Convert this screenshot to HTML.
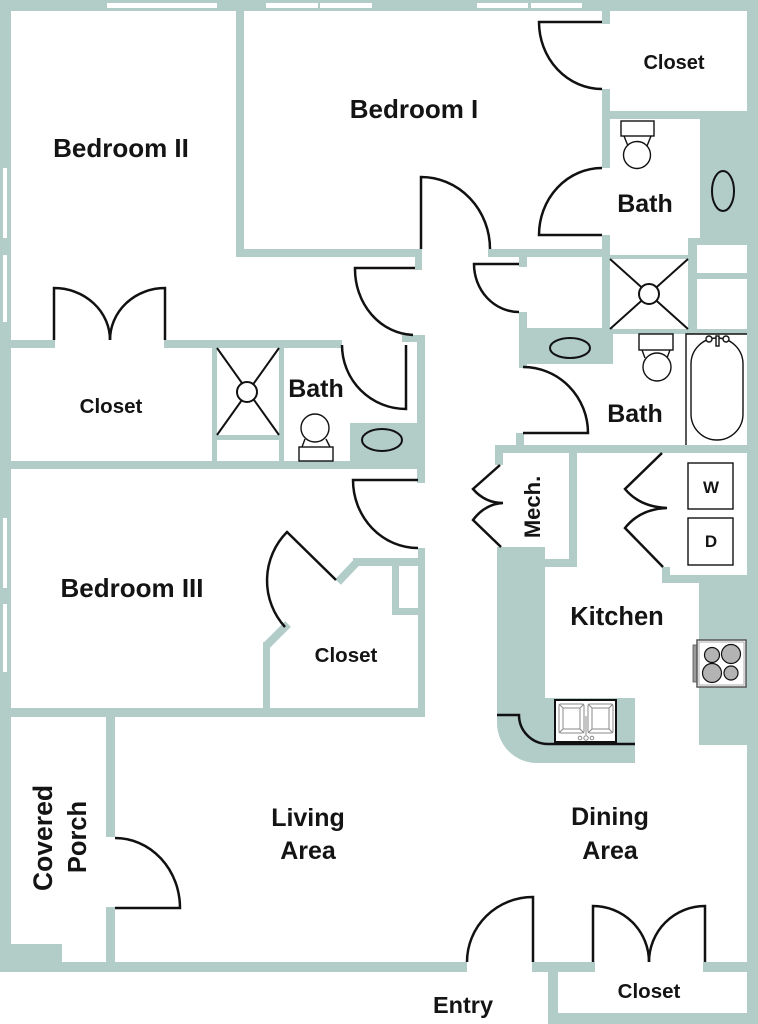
<!DOCTYPE html>
<html>
<head>
<meta charset="utf-8">
<style>
  html,body{margin:0;padding:0;background:#fff;}
  svg{display:block;}
  text{font-family:"Liberation Sans", Arial, sans-serif;font-weight:bold;fill:#141414;}
</style>
</head>
<body>
<svg width="758" height="1024" viewBox="0 0 758 1024" xmlns="http://www.w3.org/2000/svg">
  <rect width="758" height="1024" fill="#fff"/>

  <!-- WALLS -->
  <g fill="#b2ccc8">
    <!-- outer -->
    <rect x="0" y="0" width="758" height="11"/>
    <rect x="0" y="0" width="11" height="972"/>
    <rect x="747" y="0" width="11" height="1024"/>

    <!-- bedroom I -->
    <rect x="236" y="0" width="8" height="257"/>
    <rect x="236" y="249" width="186" height="8"/>
    <rect x="415" y="249" width="7" height="21"/>
    <rect x="488" y="249" width="122" height="8"/>

    <!-- closet / upper bath column -->
    <rect x="602" y="0" width="8" height="24"/>
    <rect x="602" y="89" width="8" height="79"/>
    <rect x="602" y="235" width="8" height="99"/>
    <rect x="602" y="111" width="145" height="8"/>
    <rect x="700" y="111" width="47" height="134"/>
    <rect x="688" y="238" width="9" height="96"/>
    <rect x="610" y="255" width="80" height="4"/>
    <rect x="697" y="238" width="50" height="7"/>
    <rect x="697" y="273" width="50" height="6"/>
    <rect x="610" y="329" width="137" height="5"/>

    <!-- linen / vanity -->
    <rect x="519" y="257" width="8" height="10"/>
    <rect x="519" y="312" width="8" height="56"/>
    <rect x="519" y="328" width="94" height="36"/>
    <rect x="516" y="433" width="8" height="12"/>
    <rect x="495" y="445" width="263" height="8"/>

    <!-- hallway left -->
    <rect x="402" y="335" width="23" height="7"/>
    <rect x="417" y="335" width="8" height="148"/>
    <rect x="418" y="548" width="7" height="169"/>

    <!-- bedroom II bottom, closet, bath II -->
    <rect x="0" y="340" width="55" height="8"/>
    <rect x="164" y="340" width="178" height="8"/>
    <rect x="212" y="348" width="5" height="114"/>
    <rect x="279" y="348" width="5" height="114"/>
    <rect x="217" y="435" width="62" height="5"/>
    <rect x="350" y="423" width="68" height="39"/>
    <rect x="0" y="461" width="425" height="8"/>

    <!-- bedroom III closet -->
    <rect x="353" y="558" width="65" height="8"/>
    <rect x="263" y="642" width="7" height="72"/>
    <rect x="392" y="566" width="7" height="49"/>
    <rect x="392" y="608" width="26" height="7"/>
    <rect x="0" y="708" width="425" height="9"/>

    <!-- porch -->
    <rect x="106" y="717" width="9" height="120"/>
    <rect x="106" y="907" width="9" height="65"/>
    <rect x="0" y="944" width="62" height="28"/>

    <!-- bottom -->
    <rect x="0" y="962" width="467" height="10"/>
    <rect x="532" y="962" width="63" height="10"/>
    <rect x="703" y="962" width="55" height="10"/>
    <rect x="548" y="962" width="10" height="62"/>
    <rect x="548" y="1013" width="210" height="11"/>

    <!-- kitchen / mech / laundry -->
    <rect x="495" y="445" width="8" height="20"/>
    <path d="M497 547 H545 V698 H635 V763 H537 A40 40 0 0 1 497 723 Z"/>
    <rect x="569" y="453" width="8" height="114"/>
    <rect x="545" y="559" width="32" height="8"/>
    <rect x="662" y="567" width="8" height="16"/>
    <rect x="662" y="575" width="85" height="8"/>
    <rect x="699" y="583" width="48" height="162"/>
  </g>
  <g stroke="#b2ccc8" stroke-width="8" fill="none">
    <line x1="358" y1="561" x2="338" y2="582"/>
    <line x1="288" y1="624" x2="266" y2="646"/>
  </g>

  <!-- WINDOWS -->
  <g fill="#fff">
    <rect x="107" y="3" width="110" height="5"/>
    <rect x="266" y="3" width="52" height="5"/>
    <rect x="320" y="3" width="52" height="5"/>
    <rect x="477" y="3" width="51" height="5"/>
    <rect x="531" y="3" width="51" height="5"/>
    <rect x="3" y="168" width="4" height="70"/>
    <rect x="3" y="255" width="4" height="67"/>
    <rect x="3" y="518" width="4" height="70"/>
    <rect x="3" y="604" width="4" height="68"/>
  </g>

  <!-- DOORS -->
  <g stroke="#111" stroke-width="2.5" fill="none" stroke-linejoin="miter">
    <path d="M602 22 H539 A63 67 0 0 0 602 89"/>
    <path d="M602 235 H539 A63 67 0 0 1 602 168"/>
    <path d="M421 249 V177 A69 72 0 0 1 490 249"/>
    <path d="M519 264 H474 A45 48 0 0 0 519 312"/>
    <path d="M415 268 H355 A60 66 0 0 0 413 335"/>
    <path d="M406 345 V409 A64 64 0 0 1 342 345"/>
    <path d="M54 340 V288 A56 52 0 0 1 110 340"/>
    <path d="M165 340 V288 A55 52 0 0 0 110 340"/>
    <path d="M418 480 H353 A65 68 0 0 0 418 548"/>
    <path d="M336 580 L287 532 A69 69 0 0 0 285 627"/>
    <path d="M523 433 H588 A65 66 0 0 0 523 367"/>
    <path d="M500 465 L473 489 Q485 503 503 503 Q485 504 473 520 L501 547"/>
    <path d="M662 453 L625 489 Q640 507 667 508 Q640 509 625 528 L663 567"/>
    <path d="M115 908 H180 A65 70 0 0 0 115 838"/>
    <path d="M533 962 V897 A66 65 0 0 0 467 962"/>
    <path d="M593 962 V906 A56 56 0 0 1 649 962"/>
    <path d="M705 962 V906 A56 56 0 0 0 649 962"/>
    <path d="M497 715 H519 A29 29 0 0 0 548 744 H635"/>
  </g>

  <!-- FIXTURES -->
  <g stroke="#111" stroke-width="1.4" fill="#fff">
    <!-- upper bath toilet -->
    <path d="M624 136 L628 146 M651 136 L647 146" fill="none"/>
    <circle cx="637" cy="155" r="13.5"/>
    <rect x="621" y="121" width="33" height="15"/>
    <!-- bath 2 toilet -->
    <path d="M642 350 L645 358 M670 350 L667 358" fill="none"/>
    <circle cx="657" cy="367" r="14"/>
    <rect x="639" y="334" width="34" height="16"/>
    <!-- bath II toilet -->
    <path d="M302 447 L305 439 M330 447 L326 439" fill="none"/>
    <circle cx="315" cy="428" r="14"/>
    <rect x="299" y="447" width="34" height="14"/>
    <!-- tub -->
    <path d="M686 445 V334 H747" fill="none"/>
    <rect x="691" y="338" width="52" height="102" rx="26" ry="26" fill="none"/>
    <circle cx="709" cy="339" r="3"/>
    <circle cx="726" cy="339" r="3"/>
    <rect x="716" y="336" width="3" height="10" fill="#fff"/>
    <!-- W / D -->
    <rect x="688" y="463" width="45" height="46"/>
    <rect x="688" y="518" width="45" height="47"/>
  </g>
  <g stroke="#111" stroke-width="2" fill="none">
    <line x1="610" y1="259" x2="688" y2="329"/>
    <line x1="688" y1="259" x2="610" y2="329"/>
    <line x1="217" y1="348" x2="279" y2="435"/>
    <line x1="279" y1="348" x2="217" y2="435"/>
    <ellipse cx="723" cy="191" rx="11" ry="20"/>
    <ellipse cx="570" cy="348" rx="20" ry="10"/>
    <ellipse cx="382" cy="440" rx="20" ry="11"/>
  </g>
  <g stroke="#111" stroke-width="2" fill="#fff">
    <circle cx="649" cy="294" r="10"/>
    <circle cx="247" cy="392" r="10"/>
  </g>

  <!-- stove -->
  <rect x="693" y="645" width="4" height="37" fill="#9a9a9a" stroke="#555" stroke-width="0.8"/>
  <rect x="697" y="640" width="49" height="47" fill="#fff" stroke="#555" stroke-width="1.5"/>
  <rect x="699" y="642" width="45" height="43" fill="none" stroke="#999" stroke-width="0.8"/>
  <g fill="#b3b3b3" stroke="#111" stroke-width="1.2">
    <circle cx="712" cy="655" r="7.5"/>
    <circle cx="731" cy="654" r="9.5"/>
    <circle cx="712" cy="673" r="9.5"/>
    <circle cx="731" cy="673" r="7"/>
  </g>

  <!-- sink -->
  <rect x="555" y="700" width="61" height="42" fill="#fff" stroke="#111" stroke-width="2"/>
  <g fill="none" stroke="#8a8a8a" stroke-width="1">
    <rect x="559" y="704" width="25" height="29" rx="2"/>
    <rect x="563" y="708" width="17" height="21"/>
    <rect x="588" y="704" width="25" height="29" rx="2"/>
    <rect x="592" y="708" width="17" height="21"/>
    <path d="M559 704 L563 708 M584 704 L580 708 M559 733 L563 729 M584 733 L580 729"/>
    <path d="M588 704 L592 708 M613 704 L609 708 M588 733 L592 729 M613 733 L609 729"/>
    <line x1="586" y1="716" x2="586" y2="735"/>
    <circle cx="580" cy="738" r="1.8"/>
    <circle cx="586" cy="738" r="2.2"/>
    <circle cx="592" cy="738" r="1.8"/>
  </g>

  <!-- LABELS -->
  <text x="121" y="157" font-size="26" text-anchor="middle">Bedroom II</text>
  <text x="414" y="118" font-size="26" text-anchor="middle">Bedroom I</text>
  <text x="674" y="69" font-size="20" text-anchor="middle">Closet</text>
  <text x="645" y="212" font-size="25" text-anchor="middle">Bath</text>
  <text x="111" y="413" font-size="20.5" text-anchor="middle">Closet</text>
  <text x="316" y="397" font-size="25" text-anchor="middle">Bath</text>
  <text x="635" y="422" font-size="25" text-anchor="middle">Bath</text>
  <text transform="translate(540,507) rotate(-90)" font-size="22" text-anchor="middle">Mech.</text>
  <text x="711" y="493" font-size="17" text-anchor="middle">W</text>
  <text x="711" y="547" font-size="17" text-anchor="middle">D</text>
  <text x="617" y="625" font-size="25.5" text-anchor="middle">Kitchen</text>
  <text x="132" y="597" font-size="26" text-anchor="middle">Bedroom III</text>
  <text x="346" y="662" font-size="20.5" text-anchor="middle">Closet</text>
  <text transform="translate(52,838) rotate(-90)" font-size="26.5" text-anchor="middle">Covered</text>
  <text transform="translate(86,837) rotate(-90)" font-size="25.5" text-anchor="middle">Porch</text>
  <text x="308" y="826" font-size="25" text-anchor="middle">Living</text>
  <text x="308" y="859" font-size="25" text-anchor="middle">Area</text>
  <text x="610" y="825" font-size="25" text-anchor="middle">Dining</text>
  <text x="610" y="859" font-size="25" text-anchor="middle">Area</text>
  <text x="649" y="998" font-size="20.5" text-anchor="middle">Closet</text>
  <text x="463" y="1013" font-size="23.5" text-anchor="middle">Entry</text>
</svg>
</body>
</html>
